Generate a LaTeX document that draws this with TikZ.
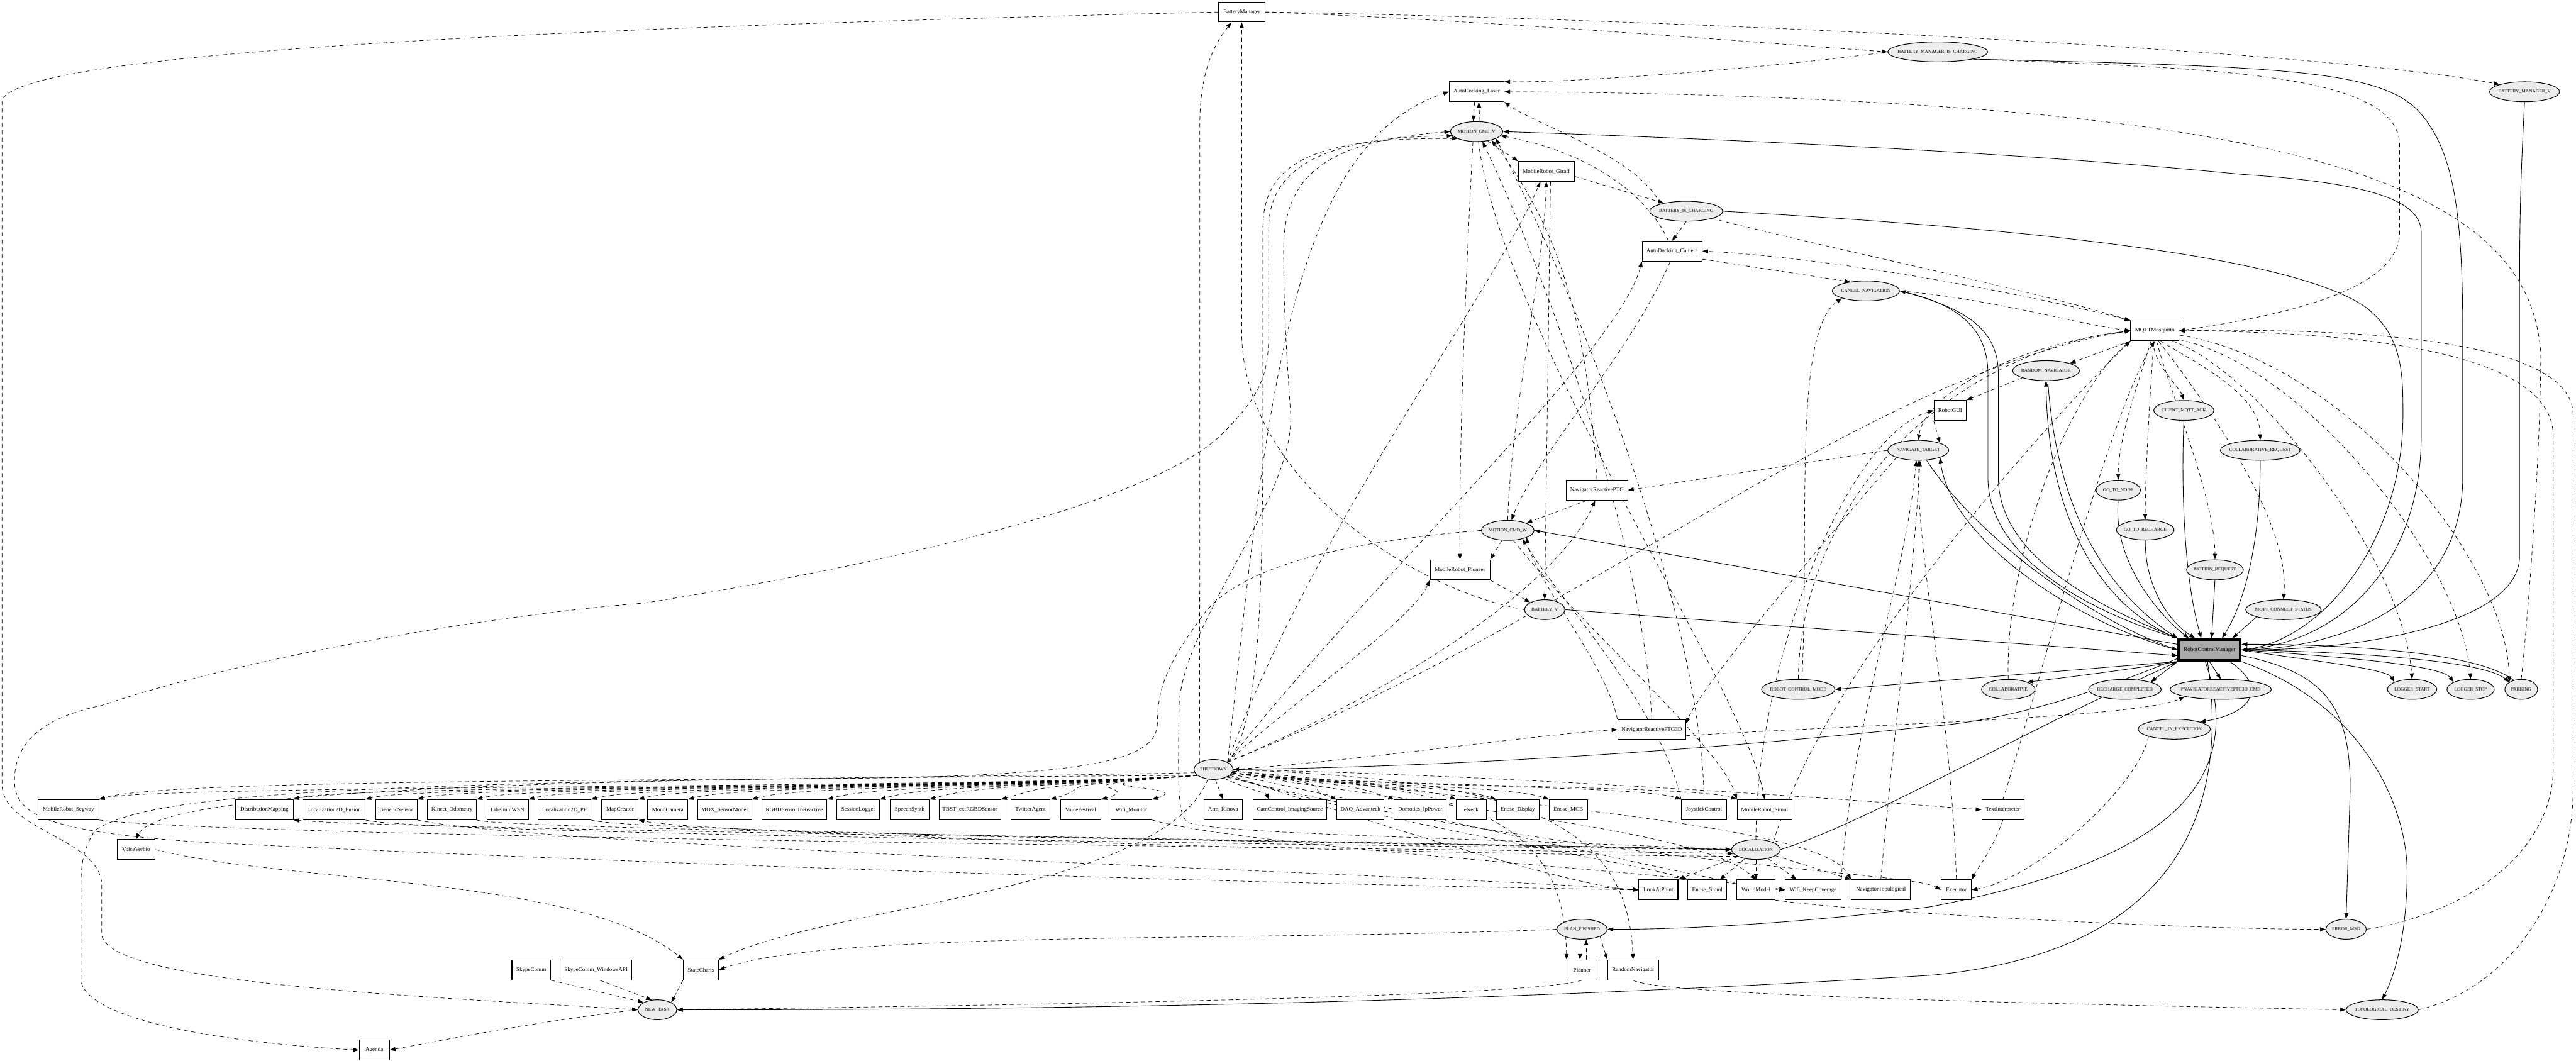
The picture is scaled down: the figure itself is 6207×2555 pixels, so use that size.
\documentclass[tikz,border=0pt]{standalone}
\usepackage{fontspec}
\setmainfont{Liberation Serif}
\usetikzlibrary{shapes.geometric,arrows.meta,calc}
\definecolor{msgfill}{HTML}{EDEDED}
\definecolor{rcmfill}{HTML}{AAAAAA}
\pgfdeclarelayer{bg}
\pgfsetlayers{bg,main}
\tikzset{
 box/.style={draw,line width=0.45pt,fill=white,rectangle,minimum height=0.48cm,inner sep=0pt,font=\fontsize{3.9}{4}\selectfont},
 msg/.style={draw,line width=0.45pt,fill=msgfill,ellipse,minimum height=0.48cm,inner sep=0pt,font=\fontsize{3.2}{3.4}\selectfont},
 dep/.style={line width=0.33pt,dash pattern=on 2.8pt off 2.2pt,-{Triangle[length=3.9pt,width=2.8pt]}},
 sol/.style={line width=0.38pt,-{Triangle[length=3.9pt,width=2.8pt]}},
}
\newcommand{\boxnode}[5]{\node[box,minimum width=#4*0.01cm] (#1) at (#2,#3) {\makebox[0pt]{#5}};}
\newcommand{\msgnode}[5]{\node[msg,minimum width=#4*0.01cm] (#1) at (#2,#3) {\makebox[0pt]{#5}};}
\begin{document}
\begin{tikzpicture}[x=0.01cm,y=-0.01cm]
\useasboundingbox (0,0) rectangle (6207,2555);
% ---------------- boxes
\boxnode{bm}{2992}{29}{111}{BatteryManager}
\boxnode{adl}{3558}{221}{132}{AutoDocking\_Laser}
\boxnode{giraff}{3726}{413}{135}{MobileRobot\_Giraff}
\boxnode{adc}{4029}{605}{144}{AutoDocking\_Camera}
\boxnode{mqtt}{5192}{797}{116}{MQTTMosquitto}
\boxnode{gui}{4699}{989}{78}{RobotGUI}
\boxnode{nrptg}{3848}{1181}{148}{NavigatorReactivePTG}
\boxnode{pioneer}{3518}{1373}{144}{MobileRobot\_Pioneer}
\boxnode{nrptg3d}{3980}{1758}{164}{NavigatorReactivePTG3D}
\boxnode{segway}{165}{1951}{146}{MobileRobot\_Segway}
\boxnode{distmap}{637}{1951}{139}{DistributionMapping}
\boxnode{locfus}{805}{1951}{150}{Localization2D\_Fusion}
\boxnode{gensens}{955}{1951}{100}{GenericSensor}
\boxnode{kinect}{1089}{1951}{118}{Kinect\_Odometry}
\boxnode{libel}{1223}{1951}{100}{LibeliumWSN}
\boxnode{locpf}{1360}{1951}{127}{Localization2D\_PF}
\boxnode{mapcr}{1494}{1951}{88}{MapCreator}
\boxnode{mono}{1609}{1951}{97}{MonoCamera}
\boxnode{mox}{1746}{1951}{130}{MOX\_SensorModel}
\boxnode{rgbd}{1914}{1951}{157}{RGBDSensorToReactive}
\boxnode{sesslog}{2068}{1951}{103}{SessionLogger}
\boxnode{speech}{2192}{1951}{94}{SpeechSynth}
\boxnode{tbst}{2337}{1951}{149}{TBST\_extRGBDSensor}
\boxnode{twitter}{2483}{1951}{95}{TwitterAgent}
\boxnode{vfest}{2604}{1951}{98}{VoiceFestival}
\boxnode{wifimon}{2726}{1951}{99}{Wifi\_Monitor}
\boxnode{kinova}{2947}{1951}{93}{Arm\_Kinova}
\boxnode{camctl}{3108}{1951}{178}{CamControl\_ImagingSource}
\boxnode{daq}{3278}{1951}{114}{DAQ\_Advantech}
\boxnode{domo}{3422}{1951}{125}{Domotics\_IpPower}
\boxnode{eneck}{3545}{1951}{72}{eNeck}
\boxnode{enosed}{3657}{1951}{103}{Enose\_Display}
\boxnode{enosem}{3779}{1951}{92}{Enose\_MCB}
\boxnode{joy}{4106}{1951}{109}{JoystickControl}
\boxnode{simul}{4252}{1951}{133}{MobileRobot\_Simul}
\boxnode{textint}{4826}{1951}{102}{TextInterpreter}
\boxnode{verbio}{328}{2047}{91}{VoiceVerbio}
\boxnode{lookat}{3996}{2144}{94}{LookAtPoint}
\boxnode{enoses}{4114}{2144}{94}{Enose\_Simul}
\boxnode{world}{4231}{2144}{92}{WorldModel}
\boxnode{wifikc}{4369}{2144}{134}{Wifi\_KeepCoverage}
\boxnode{navtop}{4532}{2144}{143}{NavigatorTopological}
\boxnode{executor}{4714}{2144}{73}{Executor}
\boxnode{skype}{1280}{2337}{93}{SkypeComm}
\boxnode{skypew}{1436}{2337}{172}{SkypeComm\_WindowsAPI}
\boxnode{statech}{1689}{2337}{85}{StateCharts}
\boxnode{planner}{3812}{2337}{73}{Planner}
\boxnode{randnav}{3935}{2337}{123}{RandomNavigator}
\boxnode{agenda}{902}{2530}{73}{Agenda}
\node[draw,line width=1.8pt,fill=rcmfill,rectangle,minimum width=1.48cm,minimum height=0.5cm,inner sep=0pt,font=\fontsize{3.9}{4}\selectfont] (rcm) at (5324,1566) {\makebox[0pt]{RobotControlManager}};
% ---------------- messages
\msgnode{bmic}{4669}{125}{241}{BATTERY\_MANAGER\_IS\_CHARGING}
\msgnode{bmv}{6083}{221}{169}{BATTERY\_MANAGER\_V}
\msgnode{mcv}{3558}{317}{126}{MOTION\_CMD\_V}
\msgnode{bic}{4063}{509}{176}{BATTERY\_IS\_CHARGING}
\msgnode{cancelnav}{4496}{701}{162}{CANCEL\_NAVIGATION}
\msgnode{randnavmsg}{4930}{893}{161}{RANDOM\_NAVIGATOR}
\msgnode{cmqttack}{5262}{989}{145}{CLIENT\_MQTT\_ACK}
\msgnode{navtarget}{4622}{1085}{147}{NAVIGATE\_TARGET}
\msgnode{collabreq}{5446}{1085}{192}{COLLABORATIVE\_REQUEST}
\msgnode{gotonode}{5104}{1181}{107}{GO\_TO\_NODE}
\msgnode{gotorech}{5169}{1277}{139}{GO\_TO\_RECHARGE}
\msgnode{mcw}{3633}{1278}{127}{MOTION\_CMD\_W}
\msgnode{motreq}{5337}{1373}{137}{MOTION\_REQUEST}
\msgnode{battv}{3722}{1469}{97}{BATTERY\_V}
\msgnode{mqttcs}{5502}{1469}{182}{MQTT\_CONNECT\_STATUS}
\msgnode{rcmode}{4333}{1661}{177}{ROBOT\_CONTROL\_MODE}
\msgnode{collab}{4839}{1661}{129}{COLLABORATIVE}
\msgnode{rechcomp}{5120}{1661}{175}{RECHARGE\_COMPLETED}
\msgnode{pnavcmd}{5351}{1661}{244}{PNAVIGATORREACTIVEPTG3D\_CMD}
\msgnode{logstart}{5812}{1661}{119}{LOGGER\_START}
\msgnode{logstop}{5953}{1661}{114}{LOGGER\_STOP}
\msgnode{parking}{6075}{1661}{79}{PARKING}
\msgnode{cie}{5239}{1757}{174}{CANCEL\_IN\_EXECUTION}
\msgnode{shutdown}{2924}{1854}{94}{SHUTDOWN}
\msgnode{localiz}{4231}{2047}{117}{LOCALIZATION}
\msgnode{pf}{3812}{2239}{121}{PLAN\_FINISHED}
\msgnode{errmsg}{5653}{2239}{97}{ERROR\_MSG}
\msgnode{newtask}{1584}{2433}{93}{NEW\_TASK}
\msgnode{topodest}{5740}{2433}{174}{TOPOLOGICAL\_DESTINY}
% ---------------- edges
\begin{pgfonlayer}{bg}
% solid: RobotControlManager
\draw[sol] (bmic.south east) .. controls (5500,160) and (5720,170) .. (5820,260) .. controls (5910,350) and (5934,500) .. (5934,800) -- (5934,1150) .. controls (5934,1450) and (5650,1560) .. (rcm.east);
\draw[sol] (bmv.south) .. controls (6075,400) and (6071,500) .. (6071,700) -- (6071,1340) .. controls (6071,1500) and (5700,1566) .. (rcm.east);
\draw[sol] (rcm.east) .. controls (5650,1550) and (5834,1350) .. (5834,1050) -- (5834,560) .. controls (5834,480) and (5700,440) .. (5400,420) .. controls (4800,360) and (4000,330) .. (mcv.east);
\draw[sol] (bic.east) .. controls (4700,540) and (5500,600) .. (5700,740) .. controls (5790,810) and (5790,900) .. (5790,1000) .. controls (5790,1300) and (5600,1540) .. (rcm.east);
\draw[sol] (rcm.north west) .. controls (5050,1480) and (4790,1350) .. (4790,1150) -- (4790,900) .. controls (4790,780) and (4700,730) .. (cancelnav.east);
\draw[sol] (cancelnav.east) .. controls (4730,740) and (4815,790) .. (4815,900) -- (4815,1150) .. controls (4815,1350) and (5080,1470) .. (rcm.north west);
\draw[sol] (rcm.north west) .. controls (5100,1480) and (4935,1300) .. (randnavmsg.south);
\draw[sol] (randnavmsg.-80) .. controls (4960,1300) and (5130,1460) .. (rcm.north west);
\draw[sol] (rcm.west) .. controls (5000,1500) and (4700,1300) .. (navtarget.south east);
\draw[sol] (navtarget.-50) .. controls (4760,1290) and (5030,1490) .. (rcm.west);
\draw[sol] (cmqttack.south) .. controls (5255,1200) and (5265,1400) .. ([xshift=-0.2cm]rcm.north);
\draw[sol] (collabreq.south) .. controls (5447,1300) and (5410,1450) .. ([xshift=0.3cm]rcm.north);
\draw[sol] (gotonode.south) .. controls (5090,1350) and (5200,1480) .. ([xshift=-0.5cm]rcm.north);
\draw[sol] (gotorech.south) .. controls (5169,1420) and (5230,1500) .. ([xshift=-0.35cm]rcm.north);
\draw[sol] (motreq.south) -- ([xshift=0.05cm]rcm.north);
\draw[sol] (mqttcs.south west) -- ([xshift=0.55cm]rcm.north);
\draw[sol] (rcm.170) -- (mcw.east);
\draw[sol] (battv.east) -- (rcm.190);
\draw[sol] (rcm.200) -- (rcmode.east);
\draw[sol] (rcm.south west) .. controls (5150,1610) and (5000,1630) .. (collab.north east);
\draw[sol] (rcm.south west) -- (rechcomp.north east);
\draw[sol] (rcm.south) -- (pnavcmd.north);
\draw[sol] (rcm.east) .. controls (5550,1590) and (5750,1610) .. (logstart.north west);
\draw[sol] (rcm.east) .. controls (5600,1580) and (5880,1600) .. (logstop.north west);
\draw[sol] (rcm.east) .. controls (5650,1570) and (5980,1590) .. (parking.north west);
\draw[sol] (parking.130) .. controls (5970,1570) and (5640,1552) .. (rcm.10);
\draw[sol] (rcm.-30) .. controls (5470,1660) and (5420,1720) .. (cie.north east);
\draw[sol] (rcm.-10) .. controls (5600,1620) and (5663,1700) .. (5663,1900) -- (errmsg.north);
\draw[sol] (rcm.-20) .. controls (5700,1700) and (5800,1950) .. (5800,2100) .. controls (5800,2250) and (5770,2350) .. (topodest.north);
\draw[sol] (rcm.-100) .. controls (5380,2000) and (5200,2300) .. (4650,2350) .. controls (3500,2420) and (2500,2433) .. (newtask.east);
\draw[sol] (rcm.-110) .. controls (5420,1900) and (5200,2080) .. (4650,2185) .. controls (4300,2230) and (4000,2240) .. (pf.east);
\draw[sol] (localiz.east) .. controls (4500,1980) and (4800,1800) .. (rcm.south west);
\draw[sol] (rcm.195) .. controls (5000,1690) and (4800,1740) .. (4650,1750) .. controls (3900,1830) and (3300,1850) .. (shutdown.east);
% dashed: BatteryManager
\draw[dep] (bm.east) .. controls (3600,50) and (4200,100) .. (bmic.west);
\draw[dep] (bm.east) .. controls (4000,45) and (5600,120) .. (bmv.north west);
\draw[dep] (bm.west) .. controls (1200,70) and (60,130) .. (5,240) -- (5,1890) .. controls (5,2000) and (240,2020) .. (245,2130) -- (245,2250) .. controls (250,2370) and (1000,2400) .. (newtask.west);
\draw[dep] (bmic.west) .. controls (4300,160) and (3800,200) .. (adl.20);
\draw[dep] (bmic.south east) .. controls (5300,165) and (5782,170) .. (5782,350) -- (5782,560) .. controls (5782,700) and (5500,760) .. (mqtt.east);
\draw[dep] (parking.north) .. controls (6090,1500) and (6122,1100) .. (6122,850) .. controls (6100,550) and (5800,330) .. (4650,255) .. controls (4200,225) and (3800,222) .. (adl.east);
\draw[dep] (battv.west) .. controls (3400,1420) and (2992,1150) .. (2992,800) -- (bm.south);
\draw[dep] (shutdown.north west) .. controls (2891,1600) and (2891,700) .. (2891,300) .. controls (2891,150) and (2940,90) .. ([xshift=-0.25cm]bm.south);
% docking / motion
\draw[dep] (bic.north west) .. controls (3950,380) and (3700,300) .. (adl.south east);
\draw[dep] (bic.south) -- (adc.north);
\draw[dep] (bic.south east) .. controls (4500,620) and (4900,700) .. (mqtt.north west);
\draw[dep] (giraff.-10) -- (bic.160);
\draw[dep] ([xshift=0.1cm]giraff.south) -- (battv.north);
\draw[dep] ([xshift=-0.05cm]adl.south) -- ([xshift=-0.08cm]mcv.north);
\draw[dep] ([xshift=0.08cm]mcv.north) -- ([xshift=0.05cm]adl.south);
\draw[dep] (mcv.-40) -- (giraff.north west);
\draw[dep] (mcv.-110) .. controls (3530,700) and (3515,1100) .. (pioneer.north);
\draw[dep] (adc.-15) -- (cancelnav.150);
\draw[dep] (adc.110) .. controls (3960,450) and (3800,360) .. (mcv.-10);
\draw[dep] (adc.-100) .. controls (3930,850) and (3700,1100) .. (mcw.70);
\draw[dep] (navtarget.west) -- (nrptg.east);
\draw[dep] (nrptg.-135) -- (mcw.north east);
\draw[dep] (nrptg.north) .. controls (3830,900) and (3800,600) .. (mcv.-30);
\draw[dep] (mcw.-120) -- (pioneer.north east);
\draw[dep] (pioneer.south east) -- (battv.north west);
\draw[dep] (mcw.north) .. controls (3640,1000) and (3720,650) .. (giraff.south);
\draw[dep] (mcv.-80) .. controls (3620,800) and (4200,1650) .. (simul.north);
\draw[dep] (mcw.-60) .. controls (3800,1500) and (4150,1800) .. (simul.north west);
\draw[dep] (mcw.west) .. controls (3300,1300) and (3000,1350) .. (2900,1480) .. controls (2820,1590) and (2789,1650) .. (2789,1740) .. controls (2789,1830) and (2650,1870) .. (2000,1876) .. controls (1000,1882) and (350,1890) .. (segway.north east);
\draw[dep] (localiz.west) .. controls (3600,2020) and (2900,2010) .. (2860,1980) .. controls (2838,1960) and (2838,1900) .. (2841,1700) .. controls (2850,1500) and (3117,1200) .. (3110,1000) .. controls (3100,850) and (3093,750) .. (3093,600) .. controls (3093,420) and (3200,340) .. (mcv.west);
\draw[dep] (shutdown.north east) .. controls (3030,1750) and (3043,1500) .. (3043,1000) -- (3043,550) .. controls (3043,400) and (3150,330) .. (mcv.200);
\draw[dep] (lookat.west) .. controls (3000,2130) and (1500,2080) .. (500,2030) .. controls (100,2005) and (35,1960) .. (35,1880) .. controls (35,1790) and (100,1730) .. (244,1700) .. controls (600,1580) and (1200,1480) .. (1553,1453) .. controls (2200,1350) and (2800,1200) .. (2950,1040) .. controls (3040,950) and (3057,900) .. (3057,800) -- (3057,550) .. controls (3057,400) and (3200,330) .. (mcv.190);
\draw[dep] (nrptg3d.north west) .. controls (3870,1600) and (3700,1400) .. (mcw.south east);
\draw[dep] (nrptg3d.north) .. controls (3960,1300) and (3720,650) .. (mcv.-60);
\draw[dep] (joy.north) .. controls (4100,1500) and (3820,750) .. (mcv.-20);
\draw[dep] (joy.north west) .. controls (4000,1700) and (3760,1450) .. (mcw.-30);
\draw[dep] (navtarget.south west) .. controls (4400,1300) and (4100,1650) .. (nrptg3d.10);
\draw[dep] (nrptg3d.-10) .. controls (4500,1745) and (5150,1730) .. (pnavcmd.south west);
% MQTT
\draw[dep] (mqtt.south west) -- (randnavmsg.north east);
\draw[dep] (mqtt.-100) .. controls (5190,880) and (5250,930) .. (cmqttack.north);
\draw[dep] (mqtt.-110) .. controls (5160,900) and (5104,1050) .. (gotonode.north);
\draw[dep] (mqtt.-95) .. controls (5180,950) and (5169,1150) .. (gotorech.north);
\draw[dep] (mqtt.-80) .. controls (5230,950) and (5337,1200) .. (motreq.north);
\draw[dep] (mqtt.-60) .. controls (5300,880) and (5446,950) .. (collabreq.north);
\draw[dep] (mqtt.-70) .. controls (5300,950) and (5520,1250) .. (mqttcs.north);
\draw[dep] (mqtt.-30) .. controls (5450,900) and (5790,1350) .. (logstart.north);
\draw[dep] (mqtt.-20) .. controls (5550,880) and (5930,1350) .. (logstop.north);
\draw[dep] (mqtt.-10) .. controls (5650,870) and (6040,1350) .. (parking.north west);
\draw[dep] (mqtt.west) .. controls (4850,830) and (4640,950) .. (navtarget.north);
\draw[dep] (mqtt.north west) .. controls (4850,700) and (4400,620) .. (adc.east);
\draw[dep] (cancelnav.east) .. controls (4800,720) and (5000,780) .. (mqtt.west);
\draw[dep] (collab.north) .. controls (4830,1350) and (4980,950) .. (mqtt.south west);
\draw[dep] (errmsg.east) .. controls (5950,2200) and (6152,2050) .. (6152,1850) -- (6152,1050) .. controls (6152,850) and (5700,800) .. (mqtt.east);
\draw[dep] (topodest.east) .. controls (6050,2380) and (6200,2150) .. (6200,1900) -- (6200,1000) .. controls (6200,820) and (5700,790) .. (mqtt.east);
\draw[dep] (rcmode.north) .. controls (4340,1200) and (4700,850) .. (mqtt.west);
\draw[dep] (rcmode.70) .. controls (4360,1250) and (4320,800) .. (cancelnav.south west);
\draw[dep] (textint.north) .. controls (4900,1700) and (5080,1000) .. (mqtt.south);
\draw[dep] (localiz.north east) .. controls (4400,1600) and (4950,1000) .. (mqtt.south west);
\draw[dep] (shutdown.north east) .. controls (3800,1500) and (4500,900) .. (mqtt.west);
% GUI / navigation
\draw[dep] (randnavmsg.south west) -- (gui.north east);
\draw[dep] (gui.south west) -- (navtarget.north east);
\draw[dep] (localiz.north) .. controls (4230,1600) and (4450,1050) .. (gui.west);
\draw[dep] (executor.north) .. controls (4700,1700) and (4620,1350) .. (navtarget.south);
\draw[dep] (navtop.north) .. controls (4560,1800) and (4610,1400) .. (navtarget.-80);
\draw[dep] (wifikc.north east) .. controls (4460,1750) and (4590,1400) .. (navtarget.-100);
% SHUTDOWN
\foreach \nm in {segway,distmap,locfus,gensens,kinect,libel,locpf,mapcr,mono,mox,rgbd,sesslog,speech,tbst,twitter,vfest,wifimon}
  \draw[dep] (shutdown.200) .. controls +(-400,30) and +(120,-35) .. (\nm.north east);
\foreach \nm in {daq,domo,eneck,enosed,enosem,joy,simul}
  \draw[dep] (shutdown.-10) .. controls +(300,35) and +(-100,-35) .. (\nm.north west);
\draw[dep] (shutdown.-80) -- (kinova.north);
\draw[dep] (shutdown.-40) .. controls (3000,1900) and (3050,1910) .. ([xshift=-0.5cm]camctl.north);
\draw[dep] (shutdown.north east) .. controls (3150,1300) and (3600,700) .. (giraff.-120);
\draw[dep] (shutdown.north east) .. controls (3050,1000) and (3100,350) .. (adl.west);
\draw[dep] (shutdown.north east) .. controls (3300,1400) and (3900,850) .. (adc.south west);
\draw[dep] (shutdown.north east) .. controls (3400,1650) and (3760,1400) .. (nrptg.-100);
\draw[dep] (shutdown.north east) .. controls (3100,1700) and (3400,1500) .. (pioneer.south west);
\draw[dep] (shutdown.east) .. controls (3300,1830) and (3700,1770) .. (nrptg3d.west);
\draw[dep] (shutdown.east) .. controls (3700,1870) and (4500,1930) .. (textint.west);
\draw[dep] (shutdown.-20) .. controls (3300,1980) and (3800,2140) .. (lookat.west);
\draw[dep] (shutdown.-25) .. controls (3400,2000) and (3950,2080) .. (enoses.north west);
\draw[dep] (shutdown.-10) .. controls (3500,1950) and (4100,2000) .. (world.north);
\draw[dep] (shutdown.-15) .. controls (3600,2000) and (4200,2140) .. (wifikc.west);
\draw[dep] (shutdown.-5) .. controls (3800,1950) and (4400,2000) .. (navtop.north west);
\draw[dep] (shutdown.-30) .. controls (3800,2080) and (4600,2100) .. (executor.west);
\draw[dep] (shutdown.-5) .. controls (3500,1900) and (3770,1950) .. (planner.north west);
\draw[dep] (shutdown.0) .. controls (3600,1880) and (3920,1950) .. (randnav.north);
\draw[dep] (shutdown.200) .. controls (1000,1880) and (380,1900) .. (230,2000) .. controls (195,2050) and (195,2100) .. (195,2150) -- (195,2360) .. controls (200,2450) and (500,2510) .. (agenda.west);
\draw[dep] (shutdown.190) .. controls (2000,1880) and (400,1870) .. (verbio.north);
\draw[dep] (shutdown.-120) .. controls (2800,2150) and (2000,2180) .. (statech.north east);
% lower cluster
\draw[dep] (skype.south east) -- (newtask.north west);
\draw[dep] (skypew.-70) -- (newtask.120);
\draw[dep] (statech.south west) -- (newtask.north east);
\draw[dep] (newtask.west) .. controls (1300,2460) and (1100,2500) .. (agenda.east);
\draw[dep] (verbio.east) .. controls (700,2130) and (1400,2110) .. (statech.north west);
\draw[dep] ([xshift=0.1cm]planner.north) -- ([xshift=0.1cm]pf.south);
\draw[dep] ([xshift=-0.05cm]pf.south) -- ([xshift=-0.05cm]planner.north);
\draw[dep] (pf.south east) -- (randnav.north west);
\draw[dep] (pf.west) .. controls (3000,2270) and (2000,2240) .. (statech.east);
\draw[dep] (planner.south) .. controls (3700,2400) and (2600,2420) .. (newtask.east);
\draw[dep] (randnav.south) .. controls (4000,2400) and (5000,2420) .. (topodest.west);
\draw[dep] (world.south east) .. controls (4500,2200) and (5300,2240) .. (errmsg.west);
\draw[dep] (cie.south west) .. controls (5150,1900) and (4900,2120) .. (executor.east);
\draw[dep] (textint.south) .. controls (4800,2050) and (4760,2100) .. (executor.north east);
% LOCALIZATION
\draw[dep] (localiz) -- (lookat.north east);
\draw[dep] (localiz) -- ([xshift=0.3cm]enoses.north);
\draw[dep] (localiz.south) -- (world.north);
\draw[dep] (localiz) -- ([xshift=-0.4cm]wifikc.north);
\draw[dep] (localiz) -- (navtop.north west);
\draw[dep] (locfus.south east) .. controls (1000,2010) and (3500,2040) .. (localiz.west);
\draw[dep] (locpf.south east) .. controls (1500,2005) and (3500,2035) .. (localiz.west);
\draw[dep] (kinect.south east) .. controls (1200,2000) and (3500,2030) .. (localiz.west);
\draw[dep] (segway.south east) .. controls (600,2020) and (3500,2045) .. (localiz.190);
\draw[dep] (localiz.west) .. controls (3500,2030) and (1000,2000) .. (distmap.south east);
\draw[dep] (localiz.200) .. controls (3500,2060) and (1700,2010) .. (mapcr.south east);
\draw[dep] (gensens.south east) .. controls (1300,2040) and (3500,2110) .. (lookat.west);
\draw[dep] (wifimon.south east) .. controls (3000,2040) and (4000,2100) .. (wifikc.west);
\end{pgfonlayer}
\end{tikzpicture}
\end{document}
